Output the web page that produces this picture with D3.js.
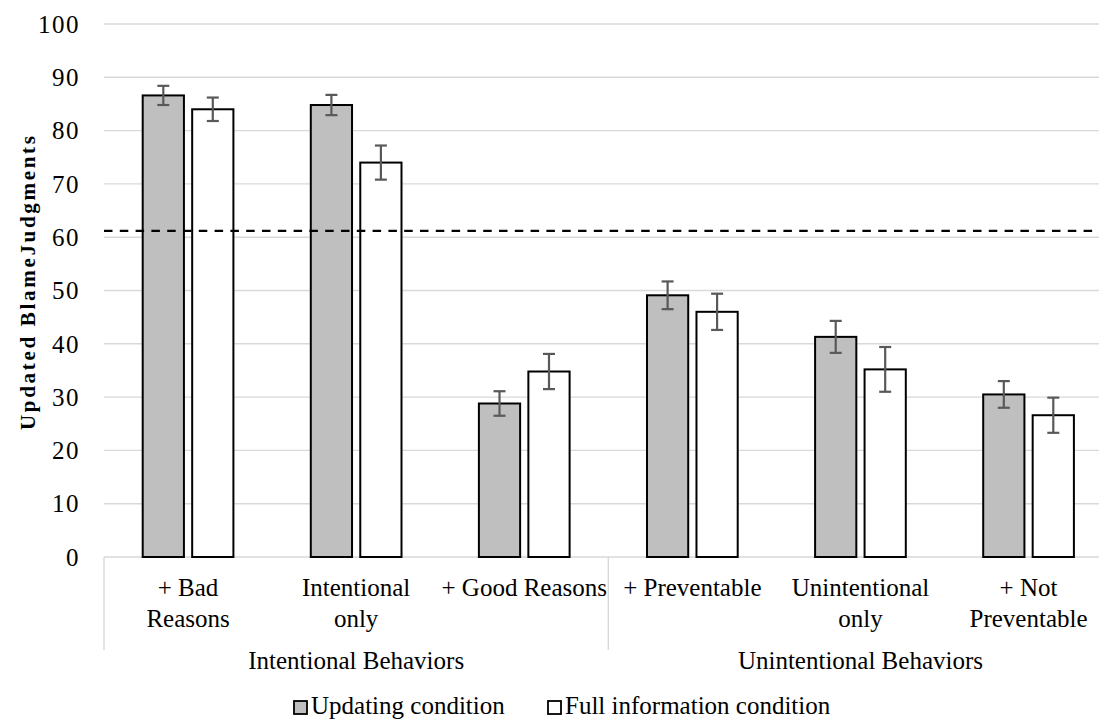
<!DOCTYPE html>
<html>
<head>
<meta charset="utf-8">
<script src="https://cdn.jsdelivr.net/npm/d3@7"></script>
<style>
  html, body { margin: 0; padding: 0; background: #fff; }
  svg { display: block; }
  text { font-family: "Liberation Serif", "Times New Roman", serif; fill: #000; }
</style>
</head>
<body>
<svg id="chart" width="1099" height="719"></svg>
<script>
// Behaviour categories (x axis, lower level) and the lines each label wraps onto
const categories = ["+ Bad Reasons", "Intentional only", "+ Good Reasons",
                    "+ Preventable", "Unintentional only", "+ Not Preventable"];
const categoryLines = [["+ Bad", "Reasons"], ["Intentional", "only"], ["+ Good Reasons"],
                       ["+ Preventable"], ["Unintentional", "only"], ["+ Not", "Preventable"]];

// Upper level of the category axis
const groups = ["Intentional Behaviors", "Unintentional Behaviors"];
const groupSize = [3, 3];

// Series
const seriesNames = ["Updating condition", "Full information condition"];
const updating     = [86.6, 84.8, 28.8, 49.1, 41.3, 30.5];
const updatingErr  = [1.8, 1.9, 2.3, 2.6, 3.0, 2.5];
const fullInfo     = [84.0, 74.0, 34.8, 46.0, 35.2, 26.6];
const fullInfoErr  = [2.2, 3.2, 3.3, 3.4, 4.2, 3.3];

// Horizontal reference line
const referenceValue = 61.2;

// Value axis
const yTicks = [0, 10, 20, 30, 40, 50, 60, 70, 80, 90, 100];
const yTitle = "Updated BlameJudgments";

const seriesFill = ["#bfbfbf", "#ffffff"];
const fontSize = 25;

const svg = d3.select("#chart");
const plotLeft = 104, plotRight = 1112.6, plotTop = 24, plotBottom = 557;

const y = d3.scaleLinear().domain([0, 100]).range([plotBottom, plotTop]);
const x0 = d3.scaleBand().domain(categories).range([plotLeft, plotRight]).padding(0);
const cw = x0.bandwidth();
const x1 = d3.scaleBand().domain(seriesNames)
  .range([cw * 0.2302, cw * 0.7698]).paddingInner(0.1667);

const defs = svg.append("defs");
defs.append("filter").attr("id", "soft")
  .attr("x", "-5%").attr("y", "-200%").attr("width", "110%").attr("height", "500%")
  .append("feGaussianBlur").attr("stdDeviation", 1.8);

// Gridlines
svg.append("g").selectAll("line").data(yTicks).join("line")
  .attr("x1", plotLeft).attr("x2", plotRight)
  .attr("y1", d => y(d)).attr("y2", d => y(d))
  .attr("stroke", "#d9d9d9").attr("stroke-width", 1.4);

// Value tick labels
svg.append("g").selectAll("text").data(yTicks).join("text")
  .attr("x", 80).attr("y", d => y(d)).attr("dy", "0.35em")
  .attr("text-anchor", "end").attr("font-size", fontSize)
  .attr("letter-spacing", 1.5)
  .text(d => d);

// Value axis title
svg.append("text")
  .attr("transform", `translate(35, 283) rotate(-90)`)
  .attr("text-anchor", "middle").attr("font-size", 21).attr("font-weight", "bold")
  .attr("textLength", 294).attr("lengthAdjust", "spacing")
  .text(yTitle);

// Bars
const rows = categories.map((c, i) => ({
  cat: c,
  vals: [
    { s: seriesNames[0], v: updating[i], e: updatingErr[i], k: 0 },
    { s: seriesNames[1], v: fullInfo[i], e: fullInfoErr[i], k: 1 }
  ]
}));

const catG = svg.append("g").selectAll("g").data(rows).join("g")
  .attr("transform", d => `translate(${x0(d.cat)},0)`);

catG.selectAll("rect").data(d => d.vals).join("rect")
  .attr("x", d => x1(d.s)).attr("width", x1.bandwidth())
  .attr("y", d => y(d.v)).attr("height", d => y(0) - y(d.v))
  .attr("fill", d => seriesFill[d.k])
  .attr("stroke", "#000").attr("stroke-width", 2);

// Error bars
const eb = catG.selectAll("g.err").data(d => d.vals).join("g").attr("class", "err")
  .attr("stroke", "#595959").attr("stroke-width", 2.2);
const cx = d => x1(d.s) + x1.bandwidth() / 2;
eb.append("line")
  .attr("x1", cx).attr("x2", cx)
  .attr("y1", d => y(d.v + d.e)).attr("y2", d => y(d.v - d.e));
eb.append("line")
  .attr("x1", d => cx(d) - 6).attr("x2", d => cx(d) + 6)
  .attr("y1", d => y(d.v + d.e)).attr("y2", d => y(d.v + d.e));
eb.append("line")
  .attr("x1", d => cx(d) - 6).attr("x2", d => cx(d) + 6)
  .attr("y1", d => y(d.v - d.e)).attr("y2", d => y(d.v - d.e));

// Reference line with its soft shadow
svg.append("line")
  .attr("x1", plotLeft).attr("x2", plotRight)
  .attr("y1", y(referenceValue) + 5).attr("y2", y(referenceValue) + 5)
  .attr("stroke", "#8c8c8c").attr("stroke-width", 3).attr("stroke-opacity", 0.55)
  .attr("stroke-dasharray", "8.5,7.3").attr("filter", "url(#soft)");
svg.append("line")
  .attr("x1", plotLeft).attr("x2", plotRight)
  .attr("y1", y(referenceValue)).attr("y2", y(referenceValue))
  .attr("stroke", "#000").attr("stroke-width", 2.2)
  .attr("stroke-dasharray", "8.5,7.3");

// Category labels
const labG = svg.append("g").selectAll("text").data(categories).join("text")
  .attr("x", d => x0(d) + cw / 2).attr("y", 596)
  .attr("text-anchor", "middle").attr("font-size", fontSize);
labG.selectAll("tspan").data((d, i) => categoryLines[i]).join("tspan")
  .attr("x", function () { return this.parentNode.getAttribute("x"); })
  .attr("dy", (d, i) => i === 0 ? 0 : 30.8)
  .text(d => d);

// Group separators and group labels
let start = 0;
const bounds = [0];
groupSize.forEach(n => { start += n; bounds.push(start); });
const edgeX = i => i < categories.length ? x0(categories[i]) : plotRight;
svg.append("g").selectAll("line").data(bounds).join("line")
  .attr("x1", d => edgeX(d)).attr("x2", d => edgeX(d))
  .attr("y1", plotBottom).attr("y2", 650)
  .attr("stroke", "#d9d9d9").attr("stroke-width", 1.4);
svg.append("g").selectAll("text").data(groups).join("text")
  .attr("x", (d, i) => (edgeX(bounds[i]) + edgeX(bounds[i + 1])) / 2)
  .attr("y", 669).attr("text-anchor", "middle").attr("font-size", fontSize)
  .text(d => d);

// Legend
const legendX = [294, 548];
const lg = svg.append("g").selectAll("g").data(seriesNames).join("g")
  .attr("transform", (d, i) => `translate(${legendX[i]}, 701)`);
lg.append("rect").attr("width", 13).attr("height", 13)
  .attr("fill", (d, i) => seriesFill[i]).attr("stroke", "#000").attr("stroke-width", 1.8);
lg.append("text").attr("x", 17).attr("y", 13)
  .attr("font-size", fontSize).text(d => d);
</script>
</body>
</html>
